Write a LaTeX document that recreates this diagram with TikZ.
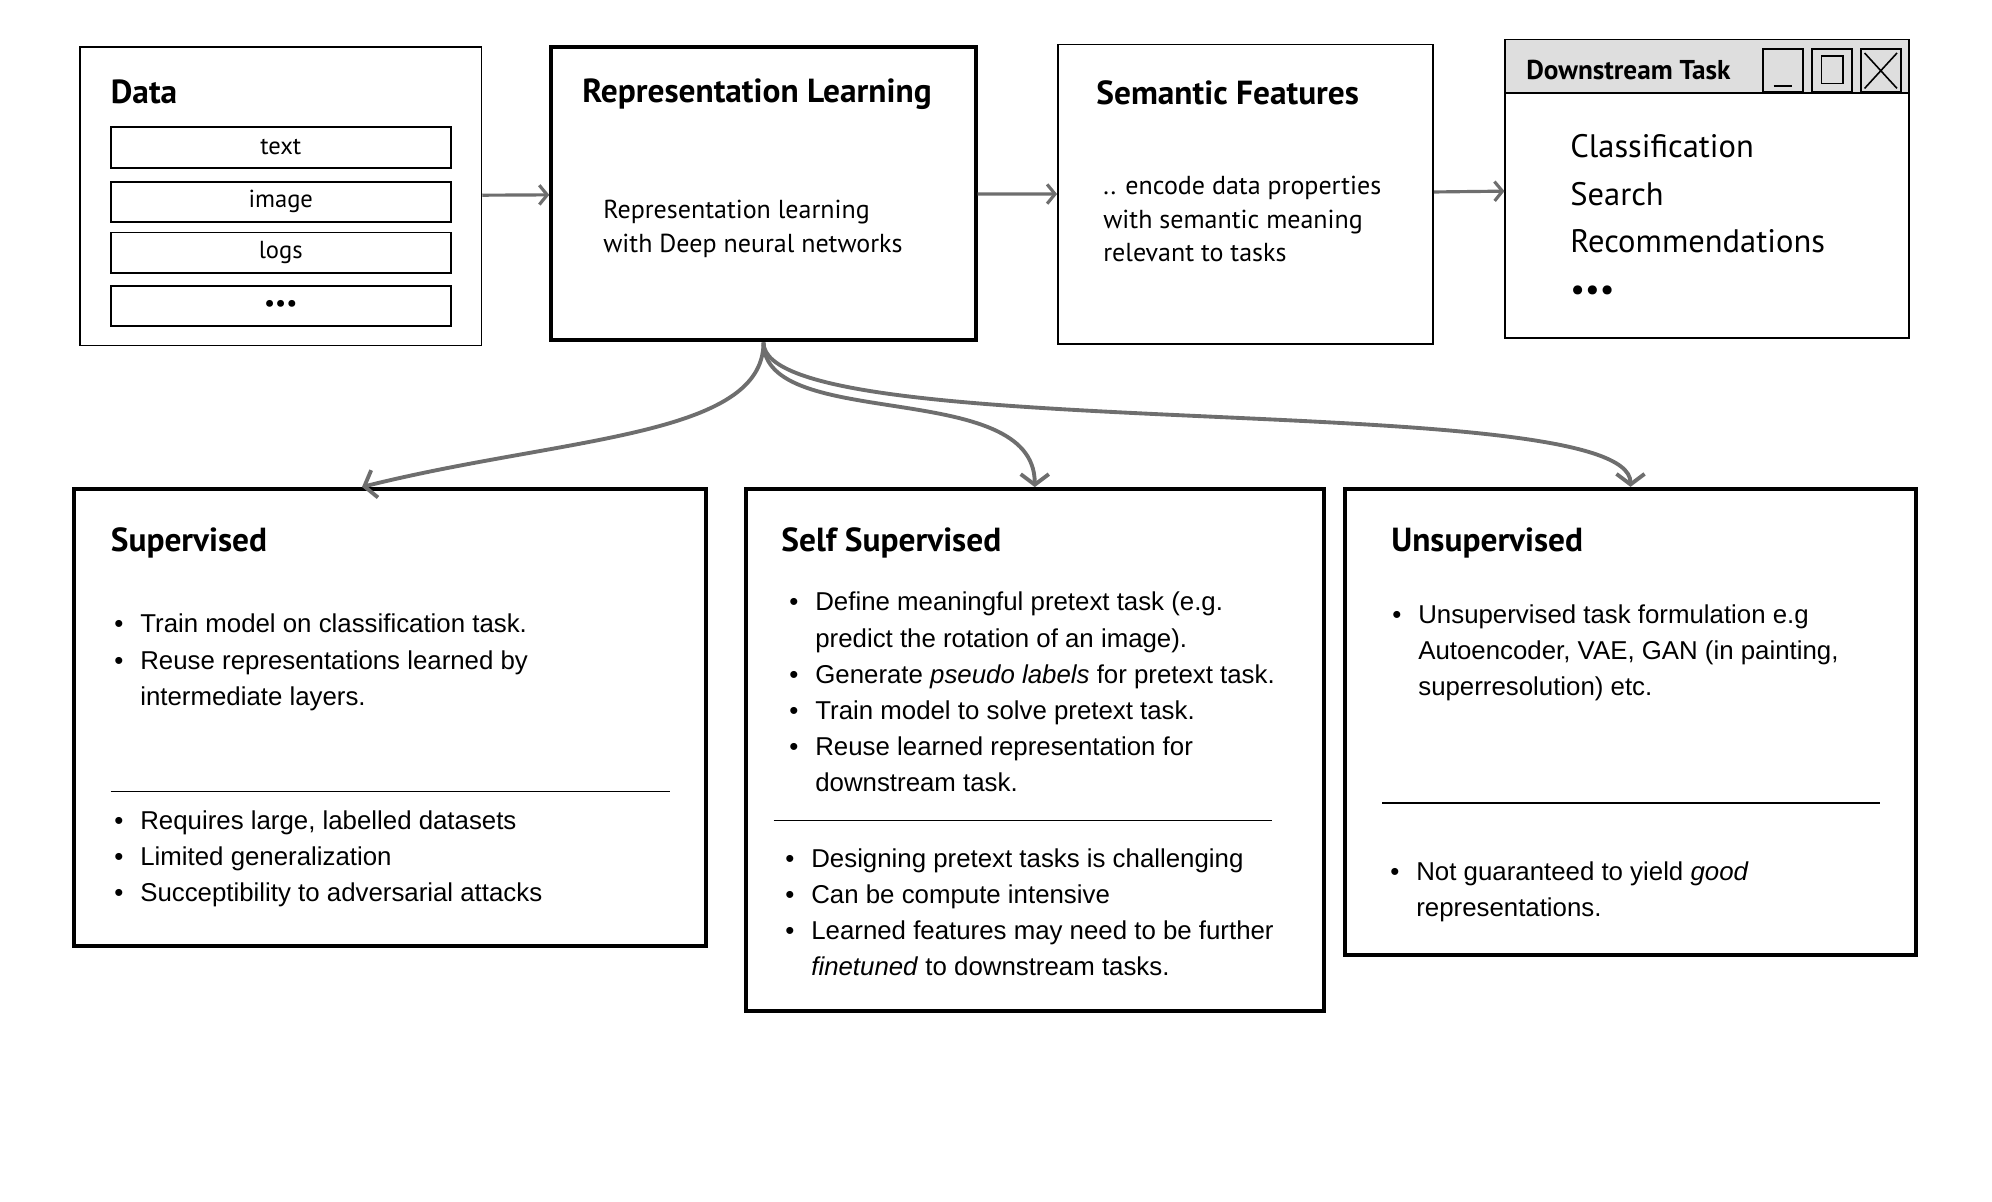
\documentclass[tikz,border=0pt]{standalone}
\usepackage{fontspec}
\setmainfont{Liberation Sans}
\newfontfamily\sketchfont{PT Sans}
\usepackage{tikz}
\usetikzlibrary{positioning,arrows.meta}
\usepackage{xcolor}
\definecolor{flowgray}{RGB}{110,110,110}
\definecolor{bargray}{RGB}{222,222,222}
\newcommand{\rows}[1]{\begin{tabular}[t]{@{}l@{}}#1\end{tabular}}
\newcommand{\bullets}[1]{\begin{tabular}[t]{@{}p{0.52cm}@{}l@{}}#1\end{tabular}}

\begin{document}
\begin{tikzpicture}[x=0.02cm,y=-0.02cm,
  box/.style={rectangle,draw,inner sep=0pt},
  plain/.style={box,line width=0.9pt},
  framed/.style={box,line width=1.1pt},
  heavy/.style={box,line width=2.3pt},
  srcbox/.style={framed,minimum width=6.81cm,minimum height=0.81cm,
                 font=\sketchfont\fontsize{14}{16}\selectfont},
  title/.style={anchor=west,inner sep=0pt,font=\sketchfont\bfseries\fontsize{19}{22}\selectfont},
  body/.style={anchor=base west,inner sep=0pt,font=\sketchfont\fontsize{14.8}{19}\selectfont},
  pts/.style={anchor=base west,inner sep=0pt,font=\fontsize{14.7}{20.5}\selectfont},
  link/.style={flowgray,line width=1.8pt,-{Straight Barb[length=4.5pt,width=11pt]}},
  flow/.style={flowgray,line width=2.2pt,-{Straight Barb[length=6pt,width=16pt]}},
  winbtn/.style={box,line width=1.1pt,minimum width=0.81cm,minimum height=0.87cm}
]
\useasboundingbox (0,0) rectangle (1992,1202);
% top row
\node[plain,minimum width=8.03cm,minimum height=5.97cm] (data) at (280.75,196.25) {};
\node[title] (datat) at (110.5,92) {Data};
\node[srcbox] (txt) at (280.75,147.4) {text};
\node[srcbox,below=0.24cm of txt] (img) {image};
\node[srcbox,below=0.17cm of img] (logs) {logs};
\node[srcbox,below=0.22cm of logs] (more) {•••};

\node[heavy,minimum width=8.49cm,minimum height=5.87cm] (rep) at (763.5,193.75) {};
\node[title] (rept) at (582,94) {Representation Learning};
\node[body] (repb) at (603,219) {\rows{Representation learning\\with Deep neural networks}};

\node[framed,minimum width=7.5cm,minimum height=5.99cm] (sem) at (1245.5,194.25) {};
\node[title] (semt) at (1096,93) {Semantic Features};
\node[body] (semb) at (1103,195) {\rows{.. encode data properties\\with semantic meaning\\relevant to tasks}};

\node[framed,minimum width=8.08cm,minimum height=5.97cm] (ds) at (1707.4,188.7) {};
\node[framed,fill=bargray,minimum width=8.08cm,minimum height=1.07cm,anchor=north] (bar) at (ds.north) {};
\node[title,font=\sketchfont\bfseries\fontsize{15.5}{18}\selectfont] (dst) at (1526,70) {Downstream Task};
\node[winbtn,anchor=north east] (close) at (1902,48) {};
\node[winbtn,left=0.13cm of close] (maxi) {};
\node[winbtn,left=0.13cm of maxi] (mini) {};
\draw[line width=0.9pt] ([shift={(0.24cm,0.15cm)}]mini.south west) -- ([shift={(-0.24cm,0.15cm)}]mini.south east);
\draw[line width=0.9pt] ([shift={(0.22cm,0.2cm)}]maxi.south west) rectangle ([shift={(-0.2cm,-0.16cm)}]maxi.north east);
\draw[line width=0.9pt] ([shift={(0.1cm,0.1cm)}]close.south west) -- ([shift={(-0.1cm,-0.1cm)}]close.north east)
  ([shift={(0.1cm,-0.1cm)}]close.north west) -- ([shift={(-0.1cm,0.1cm)}]close.south east);
\node[body,font=\sketchfont\fontsize{18.5}{27}\selectfont] (dsi) at (1570,158) {\rows{Classification\\Search\\Recommendations\\•••}};

\draw[link] (data) -- (rep);
\draw[link] (rep) -- (sem);
\draw[link] (sem) -- (ds);

% bottom row
\node[heavy,minimum width=12.65cm,minimum height=9.15cm] (sup) at (390,717.7) {};
\node[title] (supt) at (110.5,543) {Supervised};
\node[pts] (suppro) at (114,633) {\bullets{\textbullet & Train model on classification task.\\
  \textbullet & Reuse representations learned by\\ & intermediate layers.}};
\draw[line width=0.8pt] (110.5,791.5) -- (669.5,791.5);
\node[pts] (supcon) at (114,829) {\bullets{\textbullet & Requires large, labelled datasets\\
  \textbullet & Limited generalization\\ \textbullet & Succeptibility to adversarial attacks}};

\node[heavy,minimum width=11.56cm,minimum height=10.44cm] (selfsup) at (1034.75,750.1) {};
\node[title] (selft) at (781,543) {Self Supervised};
\node[pts] (selfpro) at (789,611) {\bullets{\textbullet & Define meaningful pretext task (e.g.\\ & predict the rotation of an image).\\
  \textbullet & Generate \textit{pseudo labels} for pretext task.\\ \textbullet & Train model to solve pretext task.\\
  \textbullet & Reuse learned representation for\\ & downstream task.}};
\draw[line width=0.8pt] (773.7,820.7) -- (1271.6,820.7);
\node[pts] (selfcon) at (785,867) {\bullets{\textbullet & Designing pretext tasks is challenging\\
  \textbullet & Can be compute intensive\\ \textbullet & Learned features may need to be further\\
  & \textit{finetuned} to downstream tasks.}};

\node[heavy,minimum width=11.41cm,minimum height=9.33cm] (uns) at (1630.5,722.1) {};
\node[title] (unst) at (1391,543) {Unsupervised};
\node[pts] (unspro) at (1392,623) {\bullets{\textbullet & Unsupervised task formulation e.g\\
  & Autoencoder, VAE, GAN (in painting,\\ & superresolution) etc.}};
\draw[line width=0.8pt] (1382,803) -- (1880,803);
\node[pts] (unscon) at (1390,880) {\bullets{\textbullet & Not guaranteed to yield \textit{good}\\ & representations.}};

\draw[flow] (rep.south) .. controls +(0,95) and +(200,-50) .. ([xshift=-0.56cm]sup.north);
\draw[flow] (rep.south) .. controls +(0,90) and +(0,-110) .. (selfsup.north);
\draw[flow] (rep.south) .. controls +(0,105) and +(0,-100) .. (uns.north);
\end{tikzpicture}
\end{document}
